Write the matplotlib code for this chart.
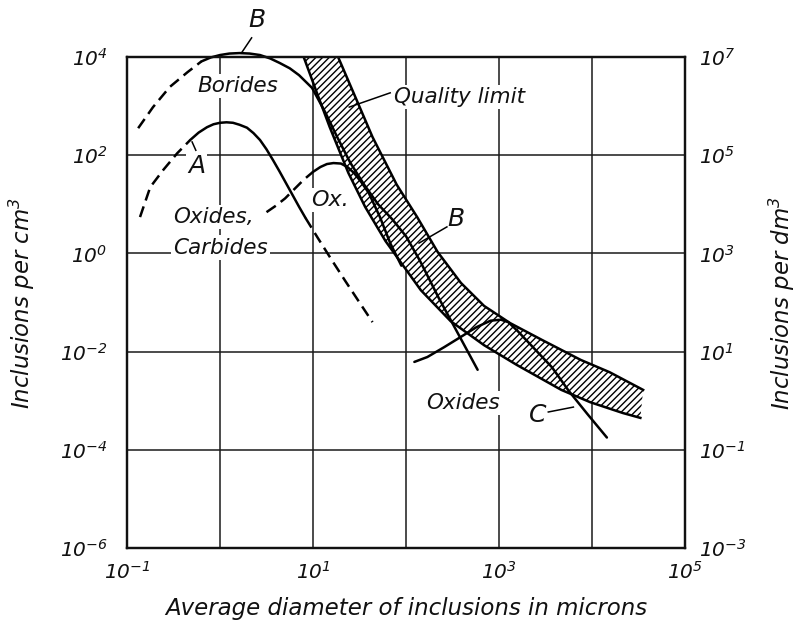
import numpy as np
import matplotlib
matplotlib.use("Agg")
import matplotlib.pyplot as plt
from matplotlib.ticker import FixedLocator, FixedFormatter, NullLocator

plt.rcParams['font.family'] = ['DejaVu Sans']
plt.rcParams['mathtext.fontset'] = 'custom'
plt.rcParams['mathtext.rm'] = 'DejaVu Sans:italic'
plt.rcParams['mathtext.it'] = 'DejaVu Sans:italic'
plt.rcParams['mathtext.default'] = 'it'
plt.rcParams['hatch.linewidth'] = 1.0

# ---------------- data (log10 of diameter in microns, log10 of inclusions per cm3) ----------------
borides_dash_logd = [-0.88, -0.72, -0.54, -0.35, -0.20]
borides_dash_logn = [2.55, 2.98, 3.39, 3.69, 3.91]
borides_logd = [-0.20, -0.10, 0.00, 0.10, 0.21, 0.32, 0.43, 0.54, 0.64, 0.75, 0.85, 0.99,
                1.13, 1.26, 1.40, 1.55, 1.70, 1.85, 2.00, 2.15, 2.35, 2.55, 2.77]
borides_logn = [3.91, 3.99, 4.04, 4.07, 4.08, 4.07, 4.04, 3.97, 3.88, 3.77, 3.63, 3.37,
                2.88, 2.37, 1.85, 1.40, 1.00, 0.70, 0.35, -0.15, -0.90, -1.60, -2.37]

oxcarb_dash1_logd = [-0.86, -0.75, -0.61, -0.46, -0.32]
oxcarb_dash1_logn = [0.74, 1.35, 1.70, 2.04, 2.31]
oxcarb_logd = [-0.32, -0.23, -0.14, -0.07, 0.00, 0.07, 0.14, 0.21, 0.29, 0.36, 0.43, 0.50,
               0.57, 0.64, 0.71, 0.78, 0.85, 0.92]
oxcarb_logn = [2.31, 2.46, 2.57, 2.63, 2.66, 2.67, 2.66, 2.62, 2.56, 2.45, 2.31, 2.12,
               1.90, 1.67, 1.43, 1.19, 0.95, 0.72]
oxcarb_dash2_logd = [0.92, 1.05, 1.20, 1.35, 1.50, 1.64]
oxcarb_dash2_logn = [0.72, 0.32, -0.13, -0.57, -1.00, -1.40]

ox_dash_logd = [0.50, 0.60, 0.70, 0.80, 0.90, 1.00]
ox_dash_logn = [0.84, 0.97, 1.12, 1.31, 1.50, 1.66]
ox_logd = [1.00, 1.08, 1.15, 1.22, 1.30, 1.37, 1.44, 1.52, 1.60, 1.72, 1.83, 1.95]
ox_logn = [1.66, 1.76, 1.82, 1.84, 1.83, 1.76, 1.64, 1.45, 1.23, 0.74, 0.21, -0.25]

oxides_logd = [2.09, 2.23, 2.41, 2.59, 2.76, 2.91, 3.02, 3.10, 3.20, 3.40, 3.57, 3.75, 3.95, 4.16]
oxides_logn = [-2.21, -2.11, -1.91, -1.70, -1.50, -1.37, -1.35, -1.40, -1.58, -1.98, -2.32,
               -2.80, -3.27, -3.75]

band_upper_logd = [1.27, 1.47, 1.64, 1.90, 2.12, 2.34, 2.59, 2.84, 3.12, 3.46, 3.88, 4.19, 4.55]
band_upper_logn = [4.00, 3.12, 2.37, 1.40, 0.74, 0.03, -0.60, -1.07, -1.42, -1.76, -2.17,
                   -2.42, -2.78]
band_lower_logd = [0.90, 1.03, 1.18, 1.38, 1.56, 1.78, 2.16, 2.48, 2.84, 3.19, 3.67, 3.98,
                   4.33, 4.52]
band_lower_logn = [4.00, 3.33, 2.57, 1.64, 0.95, 0.25, -0.75, -1.38, -1.87, -2.27, -2.78,
                   -3.03, -3.25, -3.35]

x_tick_exps = [-1, 0, 1, 2, 3, 4, 5]
x_tick_labels = ['$10^{-1}$', '', '$10^{1}$', '', '$10^{3}$', '', '$10^{5}$']
y_left_exps = [-6, -4, -2, 0, 2, 4]
y_left_labels = ['$10^{-6}$', '$10^{-4}$', '$10^{-2}$', '$10^{0}$', '$10^{2}$', '$10^{4}$']
y_right_exps = [-3, -1, 1, 3, 5, 7]
y_right_labels = ['$10^{-3}$', '$10^{-1}$', '$10^{1}$', '$10^{3}$', '$10^{5}$', '$10^{7}$']


def p(v):
    return np.power(10.0, np.asarray(v, dtype=float))


fig = plt.figure(figsize=(7.98, 6.25), dpi=100)
ax = fig.add_axes([127 / 798, 1 - 548 / 625, 558 / 798, 491 / 625])
ax.set_xscale('log')
ax.set_yscale('log')
ax.set_xlim(1e-1, 1e5)
ax.set_ylim(1e-6, 1e4)

ax.xaxis.set_major_locator(FixedLocator(p(x_tick_exps)))
ax.xaxis.set_major_formatter(FixedFormatter(x_tick_labels))
ax.xaxis.set_minor_locator(NullLocator())
ax.yaxis.set_major_locator(FixedLocator(p(y_left_exps)))
ax.yaxis.set_major_formatter(FixedFormatter(y_left_labels))
ax.yaxis.set_minor_locator(NullLocator())
ax.tick_params(which='both', length=0, labelsize=14.5)
ax.tick_params(axis='y', pad=14)
ax.tick_params(axis='x', pad=9)

ax.set_axisbelow(True)
ax.grid(True, which='major', color='#1a1a1a', linewidth=1.1)
for s in ax.spines.values():
    s.set_linewidth(1.6)
    s.set_color('#111111')

# hatched quality-limit band
band_x = np.concatenate([p(band_upper_logd), p(band_lower_logd)[::-1]])
band_y = np.concatenate([p(band_upper_logn), p(band_lower_logn)[::-1]])
ax.fill(band_x, band_y, facecolor='white', edgecolor='black', hatch='/////',
        linewidth=0, zorder=2)
ax.plot(p(band_upper_logd), p(band_upper_logn), color='black', lw=1.8, zorder=4)
ax.plot(p(band_lower_logd), p(band_lower_logn), color='black', lw=1.8, zorder=4)

solid = dict(color='black', lw=1.8, zorder=5, solid_capstyle='round')
dashed = dict(color='black', lw=1.8, zorder=5, linestyle=(0, (4.5, 2.5)))

ax.plot(p(borides_dash_logd), p(borides_dash_logn), clip_on=False, **dashed)
ax.plot(p(borides_logd), p(borides_logn), clip_on=False, **solid)
ax.plot(p(oxcarb_dash1_logd), p(oxcarb_dash1_logn), **dashed)
ax.plot(p(oxcarb_logd), p(oxcarb_logn), **solid)
ax.plot(p(oxcarb_dash2_logd), p(oxcarb_dash2_logn), **dashed)
ax.plot(p(ox_dash_logd), p(ox_dash_logn), **dashed)
ax.plot(p(ox_logd), p(ox_logn), **solid)
ax.plot(p(oxides_logd), p(oxides_logn), **solid)

# leader lines
lead = dict(color='black', lw=1.1, zorder=6, clip_on=False)
ax.plot(p([0.23, 0.34]), p([4.08, 4.39]), **lead)
ax.plot(p([2.14, 2.44]), p([0.21, 0.54]), **lead)
ax.plot(p([-0.30, -0.26]), p([2.27, 2.10]), **lead)
ax.plot(p([3.53, 3.80]), p([-3.23, -3.13]), **lead)
ax.plot(p([1.39, 1.83]), p([2.98, 3.27]), **lead)

wb = dict(facecolor='white', edgecolor='none', pad=1.5)
tkw = dict(style='italic', zorder=3, color='#111111')
ax.text(p(0.19), p(3.41), 'Borides', fontsize=15.5, ha='center', va='center', bbox=wb, **tkw)
ax.text(p(-0.50), p(0.74), 'Oxides,', fontsize=15.5, ha='left', va='center', bbox=wb, **tkw)
ax.text(p(-0.50), p(0.12), 'Carbides', fontsize=15.5, ha='left', va='center', bbox=wb, **tkw)
ax.text(p(1.87), p(3.19), 'Quality limit', fontsize=15.5, ha='left', va='center', bbox=wb, **tkw)
ax.text(p(2.22), p(-3.05), 'Oxides', fontsize=15.5, ha='left', va='center', bbox=wb, **tkw)
ax.text(p(1.18), p(1.09), 'Ox.', fontsize=16, ha='center', va='center', bbox=wb, **tkw)
ax.text(p(0.40), p(4.75), 'B', fontsize=18, ha='center', va='center', **tkw)
ax.text(p(2.54), p(0.70), 'B', fontsize=18, ha='center', va='center', bbox=wb, **tkw)
ax.text(p(-0.25), p(1.78), 'A', fontsize=18, ha='center', va='center', bbox=wb, **tkw)
ax.text(p(3.42), p(-3.29), 'C', fontsize=18, ha='center', va='center', bbox=wb, **tkw)

ax.set_xlabel('Average diameter of inclusions in microns', fontsize=16.5, style='italic',
              va='center', color='#111111')
ax.xaxis.set_label_coords(0.5, (548 - 608) / 491)
ax.set_ylabel('Inclusions per cm$^3$', fontsize=16.5, style='italic', ha='center',
              va='center', color='#111111')
ax.yaxis.set_label_coords((22 - 127) / 558, 0.5)

ax2 = ax.twinx()
ax2.set_yscale('log')
ax2.set_ylim(1e-3, 1e7)
ax2.yaxis.set_major_locator(FixedLocator(p(y_right_exps)))
ax2.yaxis.set_major_formatter(FixedFormatter(y_right_labels))
ax2.yaxis.set_minor_locator(NullLocator())
ax2.tick_params(which='both', length=0, labelsize=14.5, pad=10)
for s in ax2.spines.values():
    s.set_linewidth(1.6)
    s.set_color('#111111')
ax2.set_ylabel('Inclusions per dm$^3$', fontsize=16.5, style='italic', rotation=90,
               ha='center', va='center', color='#111111')
ax2.yaxis.set_label_coords((782 - 127) / 558, 0.5)

for lab in ax.get_xticklabels() + ax.get_yticklabels() + ax2.get_yticklabels():
    lab.set_color('#111111')

fig.savefig('out.png', dpi=100)
